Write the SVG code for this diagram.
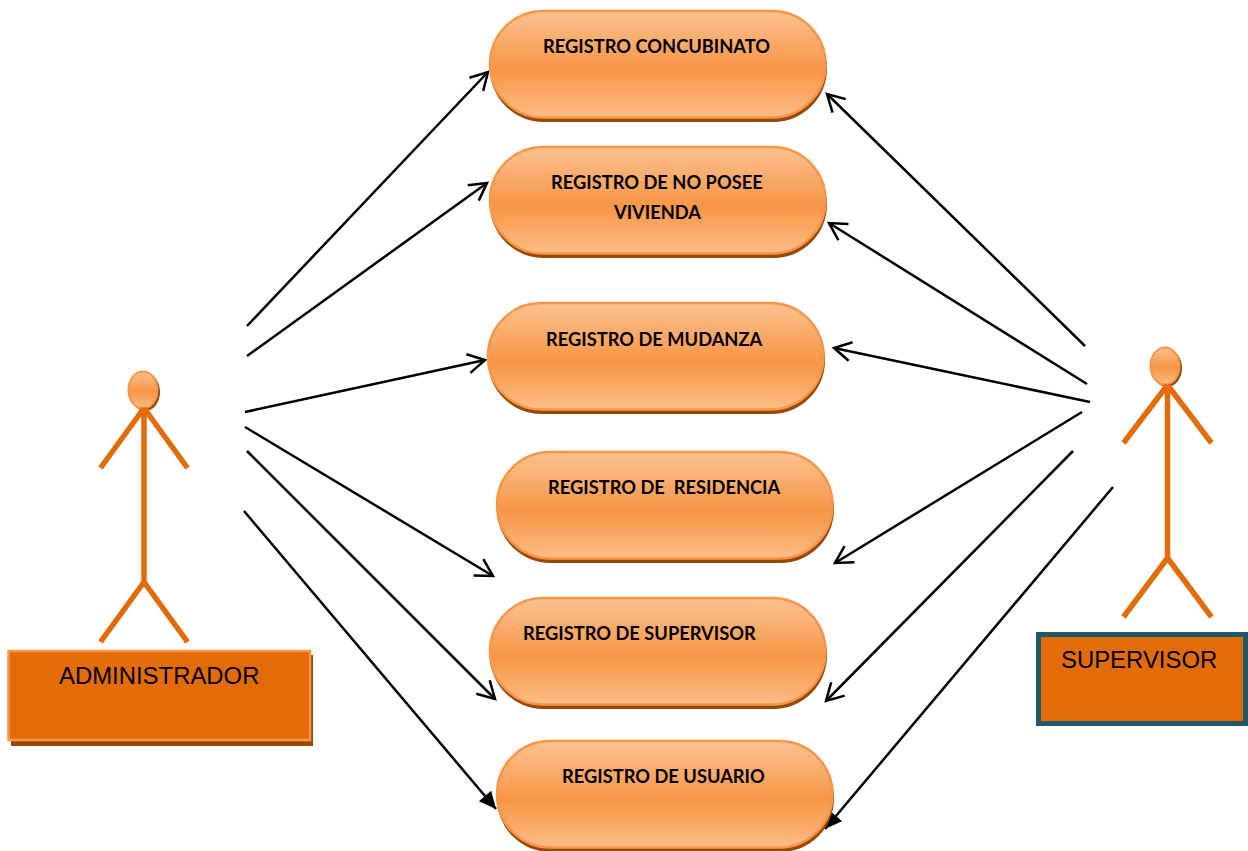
<svg xmlns="http://www.w3.org/2000/svg" width="1248" height="851" viewBox="0 0 1248 851">
<style>
.pill{fill:url(#pg);stroke:#F79646;stroke-width:2.5}
.pillshadow{fill:#984807}
.pt{font-family:"Lato","Liberation Sans",sans-serif;font-weight:700;font-size:18.3px;fill:#000;white-space:pre}
.at{font-family:"Liberation Sans",Arial,sans-serif;font-size:23.9px;fill:#000}
.limb{stroke:#E36C09;stroke-width:5.5;fill:none}
.head{fill:url(#hg);stroke:#F79646;stroke-width:2}
.conn{stroke:#000;stroke-width:2.5;fill:none}
.open{marker-end:url(#open)}
.solid{marker-end:url(#solid)}
</style>
<defs>
<linearGradient id="pg" x1="0" y1="0" x2="0" y2="1">
<stop offset="0" stop-color="#FBC08E"/><stop offset="0.14" stop-color="#FAB77E"/><stop offset="0.55" stop-color="#F79646"/><stop offset="0.86" stop-color="#FAB070"/><stop offset="1" stop-color="#FBBE8B"/>
</linearGradient>
<linearGradient id="hg" x1="0" y1="0" x2="0" y2="1">
<stop offset="0" stop-color="#FBC08E"/><stop offset="0.55" stop-color="#F79646"/><stop offset="1" stop-color="#FBBD88"/>
</linearGradient>
<marker id="open" markerUnits="userSpaceOnUse" markerWidth="24" markerHeight="24" viewBox="-20 -12 24 24" refX="0" refY="0" orient="auto">
<path d="M-17-9.500L0 0L-17 9.500" fill="none" stroke="#000" stroke-width="2.500"/>
</marker>
<marker id="solid" markerUnits="userSpaceOnUse" markerWidth="24" markerHeight="24" viewBox="-20 -12 24 24" refX="0" refY="0" orient="auto">
<path d="M-17-8L0 0L-17 8Z" fill="#000"/>
</marker>
</defs>
<rect width="1248" height="851" fill="#fff"/>

<g id="connectors">
<line class="conn open" x1="247" y1="326" x2="488" y2="72"/>
<line class="conn open" x1="247" y1="356" x2="487" y2="183"/>
<line class="conn open" x1="245" y1="412" x2="485" y2="360"/>
<line class="conn open" x1="245" y1="427" x2="493" y2="576"/>
<line class="conn open" x1="247" y1="451" x2="495" y2="699"/>
<line class="conn solid" x1="244" y1="511" x2="496" y2="809"/>
<line class="conn open" x1="1085" y1="346" x2="827" y2="94"/>
<line class="conn open" x1="1087" y1="384" x2="829" y2="223"/>
<line class="conn open" x1="1090" y1="402" x2="834" y2="348"/>
<line class="conn open" x1="1082" y1="412" x2="835" y2="563"/>
<line class="conn open" x1="1073" y1="451" x2="826" y2="701"/>
<line class="conn solid" x1="1113" y1="487" x2="825" y2="829"/>
</g>

<g id="uc-concubinato">
<rect class="pillshadow" x="490" y="14.500" width="337" height="107.500" rx="53.500"/>
<rect class="pill" x="490" y="11" width="335.500" height="106.500" rx="53"/>
<text class="pt" x="543" y="53">REGISTRO CONCUBINATO</text>
</g>
<g id="uc-no-posee">
<rect class="pillshadow" x="490" y="150.500" width="337" height="107.500" rx="53.500"/>
<rect class="pill" x="490" y="147" width="335.500" height="106.500" rx="53"/>
<text class="pt" x="551" y="189">REGISTRO DE NO POSEE</text>
<text class="pt" x="614" y="219">VIVIENDA</text>
</g>
<g id="uc-mudanza">
<rect class="pillshadow" x="488" y="306.500" width="337" height="107.500" rx="53.500"/>
<rect class="pill" x="488" y="303" width="335.500" height="106.500" rx="53"/>
<text class="pt" x="546" y="346">REGISTRO DE MUDANZA</text>
</g>
<g id="uc-residencia">
<rect class="pillshadow" x="497" y="455.500" width="337" height="107.500" rx="53.500"/>
<rect class="pill" x="497" y="452" width="335.500" height="106.500" rx="53"/>
<text class="pt" x="548" y="494" xml:space="preserve">REGISTRO DE  RESIDENCIA</text>
</g>
<g id="uc-supervisor">
<rect class="pillshadow" x="490" y="601.500" width="337" height="107.500" rx="53.500"/>
<rect class="pill" x="490" y="598" width="335.500" height="106.500" rx="53"/>
<text class="pt" x="523" y="640">REGISTRO DE SUPERVISOR</text>
</g>
<g id="uc-usuario">
<rect class="pillshadow" x="497" y="744.500" width="337" height="107.500" rx="53.500"/>
<rect class="pill" x="497" y="741" width="335.500" height="106.500" rx="53"/>
<text class="pt" x="562" y="783">REGISTRO DE USUARIO</text>
</g>

<g id="actor-administrador">
<ellipse cx="145" cy="392" rx="15" ry="19" fill="#984807"/>
<ellipse class="head" cx="143" cy="390" rx="14.500" ry="18.500"/>
<path class="limb" d="M144 408V582M144 408L100.500 468M144 408L187.500 468M144 582L100.500 642M144 582L187.500 642"/>
<rect x="11" y="655" width="302" height="91" fill="#984807"/>
<rect x="8.500" y="651" width="301.500" height="89" fill="#E36C09" stroke="#F79646" stroke-width="2.500"/>
<text class="at" x="59" y="684">ADMINISTRADOR</text>
</g>

<g id="actor-supervisor">
<ellipse cx="1167" cy="368" rx="15" ry="19" fill="#984807"/>
<ellipse class="head" cx="1165" cy="366" rx="14.500" ry="18.500"/>
<path class="limb" d="M1167.500 385V558M1167.500 385L1123.500 443M1167.500 385L1211.500 443M1167.500 558L1123.500 617M1167.500 558L1211.500 617"/>
<rect x="1038.500" y="634.500" width="207" height="89" fill="#E36C09" stroke="#215868" stroke-width="5"/>
<text class="at" x="1061" y="668">SUPERVISOR</text>
</g>
</svg>
